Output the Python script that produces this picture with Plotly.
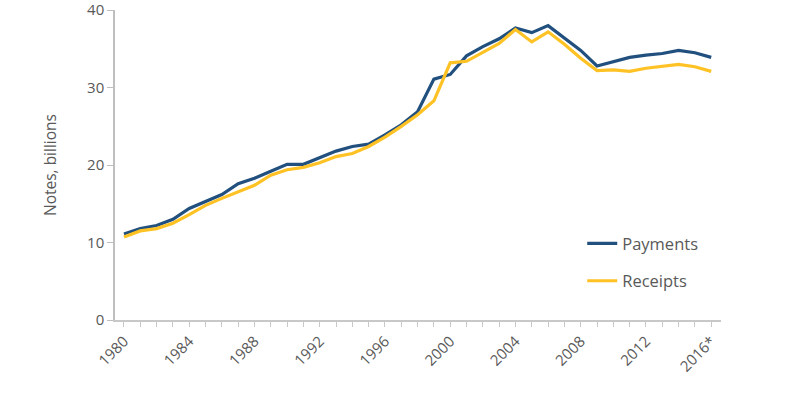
import plotly.graph_objects as go

years = list(range(1980, 2017))
payments = [11.1, 11.8, 12.2, 13.0, 14.4, 15.3, 16.2, 17.6, 18.3, 19.2, 20.1,
            20.1, 21.0, 21.8, 22.4, 22.7, 23.9, 25.2, 26.9, 31.1, 31.7,
            34.1, 35.3, 36.3, 37.7, 37.1, 38.0, 36.4, 34.8, 32.8, 33.4,
            33.9, 34.2, 34.4, 34.8, 34.5, 33.9]
receipts = [10.7, 11.5, 11.8, 12.5, 13.6, 14.8, 15.7, 16.6, 17.4, 18.7, 19.4,
            19.7, 20.3, 21.1, 21.5, 22.4, 23.6, 25.0, 26.5, 28.3, 33.2,
            33.4, 34.5, 35.7, 37.5, 35.9, 37.2, 35.6, 33.8, 32.2, 32.3,
            32.1, 32.5, 32.8, 33.0, 32.7, 32.1]
label_years = [1980, 1984, 1988, 1992, 1996, 2000, 2004, 2008, 2012, 2016]
label_text = ["1980", "1984", "1988", "1992", "1996", "2000", "2004", "2008", "2012", "2016*"]
y_ticks = [0, 10, 20, 30, 40]

grey = "#595959"
fig = go.Figure()
fig.add_trace(go.Scatter(x=years, y=payments, mode="lines", name="Payments",
                         legendgroup="a",
                         line=dict(color="#21507f", width=3.2)))
fig.add_trace(go.Scatter(x=years, y=receipts, mode="lines", name="Receipts",
                         legendgroup="b",
                         line=dict(color="#ffc224", width=3.2)))

ticktext = [label_text[label_years.index(y)] if y in label_years else "" for y in years]

fig.update_layout(
    width=786, height=397,
    margin=dict(l=115, r=65, t=10, b=77),
    paper_bgcolor="white", plot_bgcolor="white",
    font=dict(family="Open Sans, Liberation Sans, sans-serif", color=grey, size=14),
    showlegend=True,
    legend=dict(x=0.771, y=0.303, xanchor="left", yanchor="top",
                font=dict(size=16.5, color=grey), tracegroupgap=13,
                itemwidth=30, bgcolor="rgba(0,0,0,0)"),
    xaxis=dict(range=[1979.45, 2016.6], tickmode="array", tickvals=years,
               ticktext=ticktext, tickangle=-45, showgrid=False,
               showline=True, linecolor="#c8c8c8", linewidth=1.5,
               ticks="outside", ticklen=5, tickcolor="#c8c8c8",
               zeroline=False, automargin=False,
               tickfont=dict(size=15, color=grey)),
    yaxis=dict(range=[0, 40.02], tickvals=y_ticks, showgrid=False,
               showline=True, linecolor="#bfbfbf", linewidth=1.5,
               ticks="outside", ticklen=6, tickcolor="#bfbfbf",
               zeroline=False, automargin=False, ticklabeloverflow="allow",
               tickfont=dict(size=15, color=grey),
               title=dict(text="Notes, billions", font=dict(size=15.5, color=grey), standoff=27)),
)
fig.write_html("out.html", config={"displayModeBar": False},
               post_script="document.body.style.margin='0';")
